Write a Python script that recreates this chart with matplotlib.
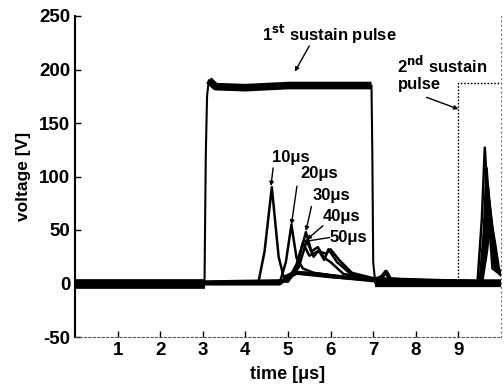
import matplotlib.pyplot as plt

plt.rcParams['font.family'] = ['Liberation Sans', 'DejaVu Sans']
plt.rcParams['font.weight'] = 'bold'
plt.rcParams['axes.unicode_minus'] = False

# 1st sustain pulse (composite trace incl. baseline)
pulse_t = [0.0, 3.04, 3.07, 3.10, 3.14, 3.3, 4.0, 5.0, 6.0, 6.96, 6.98, 7.0, 7.05, 8.0, 9.0, 10.0]
pulse_v = [0, 0, 120, 175, 190, 184, 183, 185, 185, 185, 120, 20, 0, 0, 0, 0]

# 2nd sustain pulse (dotted)
pulse2_t = [9.0, 9.0, 10.0]
pulse2_v = [0, 187, 187]

# discharge current traces for different intervals
t10 = [0.0, 4.3, 4.45, 4.62, 4.78, 4.9, 5.1, 5.5, 6.0, 7.0, 9.45, 9.55, 9.62, 9.7, 9.8, 10.0]
v10 = [0, 0, 30, 90, 25, 6, 10, 8, 6, 3, 2, 60, 127, 70, 14, 8]
t20 = [0.0, 4.8, 4.95, 5.08, 5.2, 5.35, 5.6, 6.5, 7.0, 9.5, 9.6, 9.66, 9.75, 9.85, 10.0]
v20 = [0, 0, 20, 55, 24, 14, 10, 5, 3, 2, 50, 108, 60, 15, 8]
t30 = [0.0, 5.0, 5.2, 5.42, 5.55, 5.7, 5.85, 6.0, 6.3, 7.0, 9.52, 9.62, 9.69, 9.78, 9.88, 10.0]
v30 = [0, 2, 15, 48, 30, 34, 24, 20, 9, 4, 2, 40, 92, 55, 14, 8]
t40 = [0.0, 5.0, 5.25, 5.44, 5.6, 5.72, 5.85, 5.95, 6.15, 6.5, 7.0, 9.54, 9.65, 9.72, 9.82, 9.92, 10.0]
v40 = [0, 2, 15, 40, 25, 31, 22, 32, 20, 8, 4, 2, 35, 78, 45, 12, 8]
t50 = [0.0, 5.0, 5.2, 5.35, 5.5, 5.7, 5.9, 6.0, 6.2, 6.5, 7.0, 9.56, 9.67, 9.75, 9.85, 9.95, 10.0]
v50 = [0, 3, 18, 38, 26, 30, 28, 32, 22, 10, 5, 2, 30, 62, 40, 14, 10]
# slow background hump
hump_t = [0.0, 4.8, 5.0, 5.2, 5.6, 6.0, 6.5, 7.0, 7.2, 7.3, 7.4, 8.0, 10.0]
hump_v = [0, 0, 6, 10, 9, 7, 5, 3, 6, 11, 4, 2, 2]

fig = plt.figure(figsize=(5.04, 3.84), dpi=100)
ax = fig.add_axes([75/504, 1-337/384, (501-75)/504, (337-16)/384])

# thin outline of the sustain pulse, then thick noisy-looking segments
ax.plot(pulse_t, pulse_v, color='black', lw=1.5)
ax.plot(pulse_t[:2], pulse_v[:2], color='black', lw=7, solid_capstyle='butt')
ax.plot(pulse_t[4:10], pulse_v[4:10], color='black', lw=5.5, solid_capstyle='butt')
ax.plot(pulse_t[12:], pulse_v[12:], color='black', lw=4.5, solid_capstyle='butt')
ax.plot(pulse2_t, pulse2_v, color='black', lw=1, ls=(0, (1.2, 1.2)))

for tt, vv in [(t10, v10), (t20, v20), (t30, v30), (t40, v40), (t50, v50)]:
    ax.plot(tt, vv, color='black', lw=1.8)
ax.plot(hump_t, hump_v, color='black', lw=3)

ax.set_xlim(0, 10)
ax.set_ylim(-50, 250)
ax.set_xticks(range(1, 10))
ax.set_yticks(range(-50, 251, 50))
ax.tick_params(direction='in', length=4, labelsize=13.5, width=1)
for lab in ax.get_xticklabels() + ax.get_yticklabels():
    lab.set_fontweight('bold')

ax.spines['top'].set_visible(False)
ax.spines['right'].set_linestyle((0, (1, 3)))
ax.spines['right'].set_linewidth(0.8)
ax.spines['right'].set_color('#777777')
ax.spines['bottom'].set_linestyle((0, (2, 2)))
ax.spines['bottom'].set_linewidth(0.8)
ax.spines['bottom'].set_color('#555555')
ax.spines['left'].set_linewidth(1.5)

ax.set_xlabel('time [μs]', fontsize=13, fontweight='bold', labelpad=5)
ax.set_ylabel('voltage [V]', fontsize=12.5, fontweight='bold', labelpad=6)

arrow = dict(arrowstyle='-|>', color='black', lw=1, mutation_scale=6, shrinkA=0, shrinkB=0)
fs = 12
ax.text(5.98, 233, '1$^{\\mathbf{st}}$ sustain pulse', ha='center', va='center',
        fontsize=fs, fontweight='bold')
ax.annotate('', xy=(5.16, 198), xytext=(5.5, 222), arrowprops=arrow)
ax.text(7.57, 196, '2$^{\\mathbf{nd}}$ sustain\npulse', ha='left', va='center',
        fontsize=fs, fontweight='bold', linespacing=1.1)
ax.annotate('', xy=(9.0, 163), xytext=(8.25, 174), arrowprops=arrow)

labels = ['10μs', '20μs', '30μs', '40μs', '50μs']
label_xy = [(4.63, 118), (5.28, 103), (5.58, 82), (5.82, 63), (5.98, 43)]
tail_xy = [(4.65, 108), (5.21, 91), (5.55, 72), (5.82, 54), (5.98, 43)]
tip_xy = [(4.6, 91), (5.08, 55), (5.42, 49), (5.44, 41), (5.35, 39)]
for lab, lxy, txy, pxy in zip(labels, label_xy, tail_xy, tip_xy):
    ax.text(lxy[0], lxy[1], lab, ha='left', va='center', fontsize=fs, fontweight='bold')
    ax.annotate('', xy=pxy, xytext=txy, arrowprops=arrow)

fig.savefig('out.png', dpi=100)
